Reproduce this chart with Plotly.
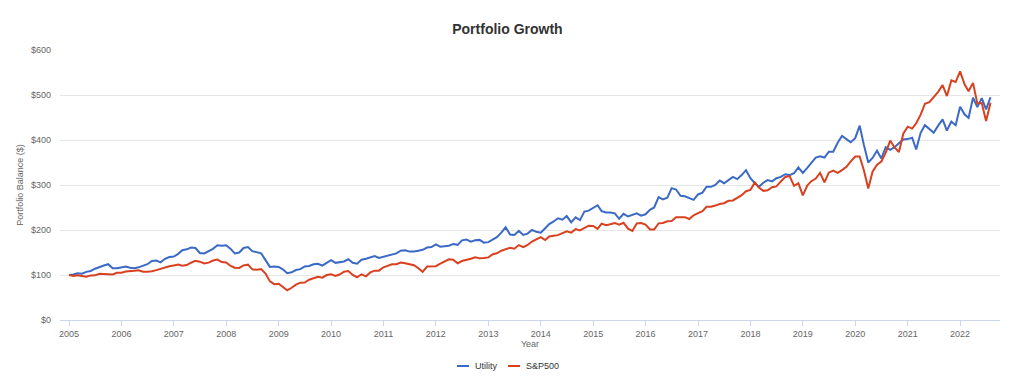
import pandas as pd
import plotly.graph_objects as go

# Month-end balances, starting balance at 2005-01-01, last point end of Jul 2022
dates = pd.date_range(start="2005-01-01", periods=212, freq="MS")

utility = [
    100, 101, 104, 103, 107, 109, 114, 118, 121, 124, 115, 115, 117,
    119, 116, 115, 117, 120, 124, 131, 132, 128, 136, 140, 141,
    147, 155, 157, 161, 160, 149, 148, 154, 158, 166, 165, 166,
    158, 148, 150, 160, 162, 153, 150, 148, 133, 118, 119, 118,
    112, 104, 106, 111, 113, 119, 120, 124, 125, 121, 127, 133,
    127, 128, 130, 135, 127, 125, 134, 136, 139, 142, 138, 141,
    144, 146, 148, 154, 155, 152, 152, 154, 156, 161, 162, 168,
    163, 164, 165, 169, 167, 177, 179, 174, 177, 178, 172, 173,
    178, 184, 194, 206, 190, 189, 198, 189, 192, 200, 196, 194,
    204, 213, 219, 226, 223, 231, 217, 228, 222, 241, 243, 250,
    255, 242, 239, 239, 237, 225, 236, 230, 234, 237, 232, 235,
    245, 250, 273, 268, 272, 293, 290, 276, 275, 271, 267, 279,
    283, 296, 296, 300, 310, 304, 311, 318, 313, 322, 333, 315,
    304, 296, 305, 311, 308, 315, 318, 324, 322, 326, 339, 327,
    338, 350, 361, 364, 361, 374, 374, 394, 409, 402, 395, 404,
    432, 390, 350, 360, 376, 359, 384, 378, 384, 393, 401, 402,
    405, 379, 416, 433, 425, 416, 432, 446, 421, 441, 433, 474,
    457, 449, 494, 473, 493, 468, 495,
]

sp500 = [
    100, 97.6, 99.6, 97.8, 96.0, 99.1, 99.2, 102.9, 102.0, 102.8, 101.0, 104.8, 104.9,
    107.6, 107.9, 109.2, 110.6, 107.4, 107.5, 108.2, 110.8, 113.6, 117.4, 119.6, 121.3,
    123.1, 120.6, 122.0, 127.3, 131.8, 129.6, 125.6, 127.5, 132.2, 134.3, 128.7, 127.8,
    120.1, 116.2, 115.7, 121.4, 123.0, 112.6, 111.7, 113.2, 103.1, 85.8, 79.6, 80.5,
    73.7, 65.8, 71.6, 78.5, 82.9, 83.1, 89.4, 92.6, 96.0, 94.2, 99.9, 101.8,
    98.1, 101.1, 107.2, 108.9, 100.2, 95.0, 101.6, 97.1, 105.7, 109.7, 109.7, 117.1,
    119.9, 124.0, 124.0, 127.7, 126.3, 124.2, 121.7, 115.1, 107.1, 118.7, 118.5, 119.7,
    125.1, 130.5, 134.8, 134.0, 126.0, 131.1, 133.0, 136.0, 139.5, 137.0, 137.8, 139.1,
    146.3, 148.3, 153.9, 156.9, 160.5, 158.4, 166.5, 161.7, 166.7, 174.4, 179.6, 184.1,
    177.7, 185.8, 187.3, 188.6, 193.0, 197.0, 194.2, 202.0, 199.2, 204.0, 209.5, 208.9,
    202.6, 214.2, 210.8, 212.9, 215.7, 211.6, 216.0, 203.1, 198.0, 214.6, 215.3, 211.9,
    201.3, 201.1, 214.8, 215.6, 219.5, 220.2, 228.3, 228.5, 228.5, 224.4, 232.7, 237.4,
    241.9, 251.6, 251.8, 254.3, 257.9, 259.5, 264.9, 265.7, 271.3, 277.5, 286.1, 289.2,
    305.7, 294.4, 287.0, 288.2, 295.1, 296.9, 307.9, 318.0, 319.9, 298.2, 304.1, 276.8,
    298.9, 308.5, 314.4, 327.0, 306.0, 327.5, 332.1, 326.8, 333.0, 340.3, 352.6, 363.2,
    363.2, 333.4, 292.1, 329.5, 345.3, 352.2, 371.9, 398.7, 383.5, 373.2, 413.9, 429.6,
    425.3, 437.2, 456.4, 480.6, 484.0, 495.1, 507.0, 522.2, 497.7, 532.5, 528.8, 552.6,
    523.9, 508.2, 527.0, 481.2, 482.1, 442.1, 482.8,
]

series_names = ["Utility", "S&P500"]
series_colors = ["#3b6ac6", "#d9401f"]

FONT = "Liberation Sans, Arial, Helvetica, sans-serif"

fig = go.Figure()
for name, vals, col in zip(series_names, [utility, sp500], series_colors):
    fig.add_trace(go.Scatter(
        x=dates, y=vals, mode="lines", name=name,
        line=dict(color=col, width=2),
        showlegend=False,
    ))

# custom legend (line sample + label) below the plot
legend_x = [(0.4223, 0.4351, 0.4394), (0.4766, 0.4894, 0.4936)]
ly = -0.1704
for (x0, x1, tx), name, col in zip(legend_x, series_names, series_colors):
    fig.add_shape(type="line", xref="paper", yref="paper", x0=x0, x1=x1, y0=ly, y1=ly,
                  line=dict(color=col, width=2))
    fig.add_annotation(xref="paper", yref="paper", x=tx, y=ly, text=name, showarrow=False,
                       xanchor="left", yanchor="middle",
                       font=dict(family=FONT, size=9, color="#333333"))

# the page body has an 8px margin, so the figure is sized/offset to compensate
fig.update_layout(
    width=1016, height=368,
    margin=dict(l=52, r=24, t=42, b=56),
    paper_bgcolor="white", plot_bgcolor="white",
    font=dict(family=FONT, size=9, color="#666666"),
    title=dict(text="<b>Portfolio Growth</b>", xref="container", x=0.4916, y=1 - 21 / 368,
               xanchor="center", yanchor="middle",
               font=dict(family=FONT, size=14, color="#333333")),
    showlegend=False,
    hovermode="x unified",
)
fig.update_xaxes(
    type="date", range=["2004-10-30", "2022-10-06"],
    tick0="2005-01-01", dtick="M12", tickformat="%Y",
    showgrid=False, showline=True, linecolor="#ccd6eb", linewidth=1,
    ticks="outside", ticklen=5, tickcolor="#ccd6eb",
    tickfont=dict(family=FONT, size=9, color="#666666"),
    title=dict(text="Year", font=dict(family=FONT, size=9, color="#666666"), standoff=2),
    zeroline=False,
)
fig.update_yaxes(
    range=[0, 600], dtick=100, tickprefix="$",
    showgrid=True, gridcolor="#e6e6e6", gridwidth=1,
    showline=False, zeroline=False, ticks="", ticklabelstandoff=8,
    tickfont=dict(family=FONT, size=9, color="#666666"),
    title=dict(text="Portfolio Balance ($)", font=dict(family=FONT, size=9, color="#666666"), standoff=5),
)

fig.write_html("out.html")
